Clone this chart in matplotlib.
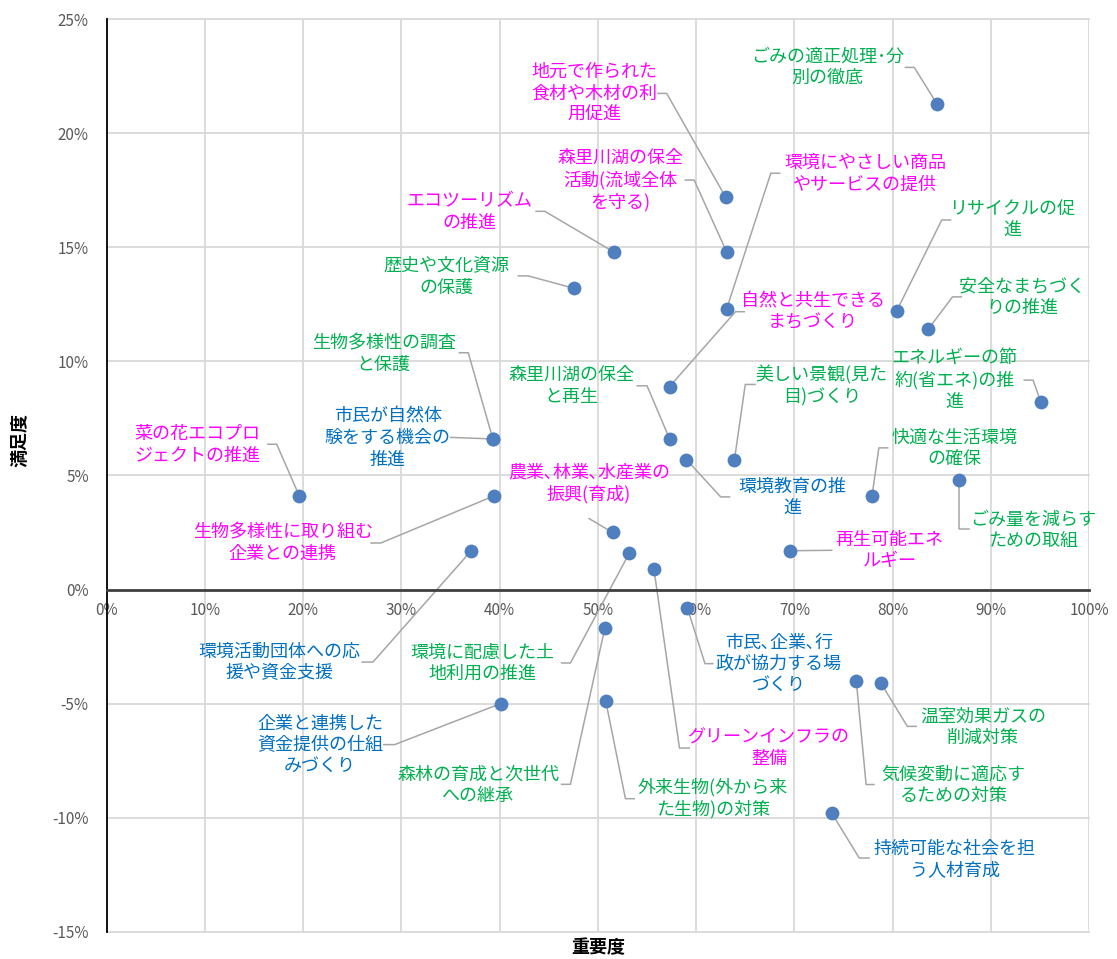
import matplotlib
matplotlib.use('Agg')
import matplotlib.pyplot as plt
from matplotlib.ticker import FuncFormatter

plt.rcParams['font.family'] = ['Noto Sans CJK JP', 'DejaVu Sans']

# 重要度 (x) / 満足度 (y), in percent
items = ['ごみの適正処理･分\n別の徹底', '地元で作られた\n食材や木材の利\n用促進', '森里川湖の保全\n活動(流域全体\nを守る)',
         'エコツーリズム\nの推進', '歴史や文化資源\nの保護', '環境にやさしい商品\nやサービスの提供',
         'リサイクルの促\n進', '安全なまちづく\nりの推進', '自然と共生できる\nまちづくり',
         'エネルギーの節\n約(省エネ)の推\n進', '森里川湖の保全\nと再生', '市民が自然体\n験をする機会の\n推進',
         '生物多様性の調査\nと保護', '環境教育の推\n進', '美しい景観(見た\n目)づくり',
         '菜の花エコプロ\nジェクトの推進', '生物多様性に取り組む\n企業との連携', '快適な生活環境\nの確保',
         'ごみ量を減らす\nための取組', '農業､林業､水産業の\n振興(育成)', '環境に配慮した土\n地利用の推進',
         '環境活動団体への応\n援や資金支援', '再生可能エネ\nルギー', 'グリーンインフラの\n整備',
         '市民､企業､行\n政が協力する場\nづくり', '森林の育成と次世代\nへの継承', '外来生物(外から来\nた生物)の対策',
         '企業と連携した\n資金提供の仕組\nみづくり', '気候変動に適応す\nるための対策', '温室効果ガスの\n削減対策',
         '持続可能な社会を担\nう人材育成']
importance = [84.5, 63.0, 63.1, 51.6, 47.6, 63.1, 80.4, 83.6, 57.3, 95.1, 57.3, 39.3, 39.3, 59.0, 63.9, 19.6,
              39.4, 77.9, 86.8, 51.5, 53.2, 37.1, 69.6, 55.7, 59.1, 50.7, 50.8, 40.1, 76.3, 78.8, 73.8]
satisfaction = [21.3, 17.2, 14.8, 14.8, 13.2, 12.3, 12.2, 11.4, 8.9, 8.2, 6.6, 6.6, 6.6, 5.7, 5.7, 4.1,
                4.1, 4.1, 4.8, 2.5, 1.6, 1.7, 1.7, 0.9, -0.8, -1.7, -4.9, -5.0, -4.0, -4.1, -9.8]
group = ['g', 'm', 'm', 'm', 'g', 'm', 'g', 'g', 'm', 'g', 'g', 'b', 'g', 'b', 'g', 'm',
         'm', 'g', 'g', 'm', 'g', 'b', 'm', 'm', 'b', 'g', 'g', 'b', 'g', 'g', 'b']

colors = {'g': '#00B050', 'm': '#FF00FF', 'b': '#0070C0'}

# label centre, leader start at label, leader elbow
layout = [
    ((73.4, 22.90), (81.3, 22.89), (82.2, 22.89)),
    ((49.6, 21.75), (56.1, 21.75), (57.0, 21.75)),
    ((52.3, 17.95), (58.9, 17.95), (59.8, 17.95)),
    ((36.9, 16.55), (43.7, 16.58), (44.6, 16.58)),
    ((34.6, 13.70), (41.9, 13.75), (42.9, 13.75)),
    ((77.2, 18.21), (68.5, 18.25), (67.6, 18.25)),
    ((92.2, 16.20), (85.9, 16.20), (85.0, 16.20)),
    ((93.2, 12.82), (87.0, 12.83), (86.1, 12.83)),
    ((71.9, 12.16), (64.9, 12.18), (64.0, 12.18)),
    ((86.3, 9.17), (93.4, 9.18), (94.3, 9.18)),
    ((47.3, 8.92), (54.0, 8.93), (55.0, 8.93)),
    ((28.6, 6.65), (35.0, 6.67), (35.0, 6.67)),
    ((28.2, 10.32), (35.9, 10.38), (36.8, 10.38)),
    ((69.8, 4.03), (63.4, 4.06), (62.5, 4.06)),
    ((72.8, 8.94), (66.0, 8.99), (65.0, 8.99)),
    ((9.2, 6.34), (16.4, 6.37), (17.3, 6.37)),
    ((17.9, 2.02), (26.9, 2.04), (27.9, 2.04)),
    ((86.3, 6.20), (79.5, 6.21), (78.6, 6.21)),
    ((94.3, 2.60), (87.8, 2.64), (86.8, 2.64)),
    ((49.1, 4.66), (49.1, 3.11), (49.1, 3.11)),
    ((38.2, -3.23), (46.3, -3.22), (47.2, -3.22)),
    ((17.6, -3.18), (26.0, -3.18), (27.1, -3.18)),
    ((79.7, 1.72), (73.8, 1.72), (73.8, 1.72)),
    ((67.4, -6.96), (59.3, -6.95), (58.3, -6.95)),
    ((68.4, -3.29), (61.7, -3.25), (60.9, -3.25)),
    ((37.8, -8.58), (46.3, -8.54), (47.2, -8.54)),
    ((61.7, -9.15), (53.7, -9.17), (52.8, -9.17)),
    ((21.7, -6.81), (28.2, -6.80), (29.3, -6.80)),
    ((86.2, -8.58), (78.1, -8.55), (77.3, -8.55)),
    ((89.2, -6.03), (82.4, -6.00), (81.5, -6.00)),
    ((86.3, -11.82), (77.6, -11.77), (76.6, -11.77)),
]

fig = plt.figure(figsize=(11.17, 9.59), dpi=100)
ax = fig.add_axes([0.0956, 0.0285, 0.8794, 0.9514])

ax.set_xlim(0, 100)
ax.set_ylim(-15, 25)
ax.set_xticks(range(0, 101, 10))
ax.set_yticks(range(-15, 26, 5))
pct = FuncFormatter(lambda v, p: '%d%%' % v)
ax.xaxis.set_major_formatter(pct)
ax.yaxis.set_major_formatter(pct)
ax.grid(True, color='#D9D9D9', linewidth=1.3)
for gl in ax.get_xgridlines() + ax.get_ygridlines():
    gl.set_clip_on(False)
ax.set_axisbelow(True)

ax.spines['top'].set_visible(False)
ax.spines['right'].set_visible(False)
ax.spines['bottom'].set_position(('data', 0))
ax.spines['bottom'].set_color('#404040')
ax.spines['bottom'].set_linewidth(2)
ax.spines['left'].set_color('black')
ax.spines['left'].set_linewidth(1.3)
ax.tick_params(axis='both', length=0, labelsize=11, labelcolor='#595959')
ax.tick_params(axis='x', pad=9)
ax.tick_params(axis='y', pad=13)

# leader lines then labels
for i, (c, s, e) in enumerate(layout):
    ax.plot([s[0], e[0], importance[i]], [s[1], e[1], satisfaction[i]],
            color='#A6A6A6', linewidth=1.1, zorder=2, clip_on=False)
    ax.text(c[0], c[1], items[i], color=colors[group[i]], fontsize=13,
            ha='center', va='center', multialignment='center', linespacing=1.25, zorder=4)

ax.scatter(importance, satisfaction, s=80, color='#4F7FBE', zorder=3, clip_on=False)

fig.text(598 / 1117, 1 - 948 / 959, '重要度', ha='center', va='center',
         fontsize=13, fontweight='bold')
fig.text(20 / 1117, 1 - 440 / 959, '満足度', ha='center', va='center',
         fontsize=13, fontweight='bold', rotation=90)

plt.savefig('out.png', dpi=100)
